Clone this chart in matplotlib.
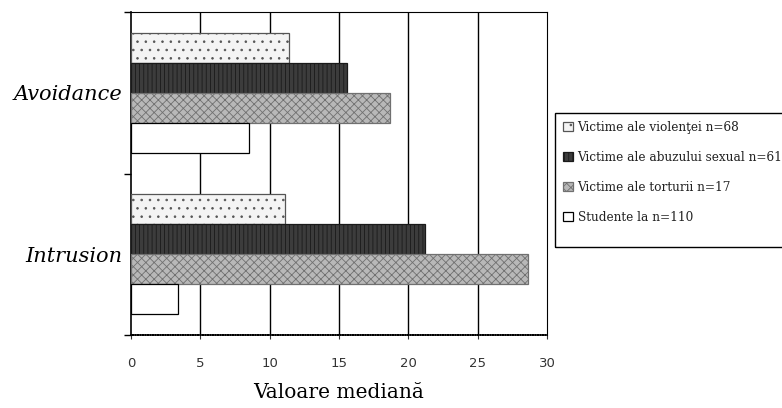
import matplotlib
matplotlib.use("Agg")
import matplotlib.pyplot as plt
from matplotlib.patches import Rectangle
import numpy as np

# date (valoare mediana)
categorii = ['Intrusion', 'Avoidance']
violenta = [11.1, 11.4]
abuz_sexual = [21.2, 15.6]
tortura = [28.6, 18.7]
studente = [3.4, 8.5]
etichete = ['Victime ale violenţei n=68',
            'Victime ale abuzului sexual n=61',
            'Victime ale torturii n=17',
            'Studente la n=110']

plt.rcParams['hatch.linewidth'] = 0.6

fig = plt.figure(figsize=(7.82, 4.08), dpi=100)
ax = fig.add_axes([131 / 782, 1 - 335 / 408, 416 / 782, 323 / 408])

y = np.arange(len(categorii))
h = 0.186

serii = [violenta, abuz_sexual, tortura, studente]
stiluri = [
    dict(color='#f4f4f4', hatch='..', edgecolor='#555555'),
    dict(color='#3c3c3c', hatch='||||', edgecolor='#1a1a1a'),
    dict(color='#b8b8b8', hatch='xxxx', edgecolor='#707070'),
    dict(color='white', hatch='', edgecolor='black'),
]
offsets = [1.5, 0.5, -0.5, -1.5]

handles = []
for vals, st, off, lab in zip(serii, stiluri, offsets, etichete):
    b = ax.barh(y + off * h, vals, height=h, color=st['color'],
                hatch=st['hatch'], edgecolor=st['edgecolor'], linewidth=0.9,
                label=lab, zorder=3)
    handles.append(b)

ax.set_xlim(0, 30)
ax.set_ylim(-0.5, 1.5)

# grila verticala
for xv in [5, 10, 15, 20, 25]:
    ax.axvline(xv, color='black', lw=1.0, zorder=1)

ax.set_xticks([0, 5, 10, 15, 20, 25, 30])
ax.tick_params(axis='x', length=3, pad=13, labelsize=9.5, colors='#333333')
for t in ax.get_xticklabels():
    t.set_family('DejaVu Sans')

ax.set_yticks(y)
ax.set_yticklabels(categorii, family='DejaVu Serif', style='italic', fontsize=15)
ax.tick_params(axis='y', which='major', length=0, pad=6)
ax.set_yticks([-0.5, 0.5, 1.5], minor=True)
ax.tick_params(axis='y', which='minor', length=5, width=1)

ax.spines['left'].set_linewidth(1.2)
ax.spines['bottom'].set_linewidth(1.2)
ax.spines['bottom'].set_linestyle((0, (1, 0.5)))
ax.spines['top'].set_linestyle((0, (1, 1)))
ax.spines['right'].set_linestyle((0, (1, 1)))
ax.spines['top'].set_linewidth(0.8)
ax.spines['right'].set_linewidth(0.8)

ax.set_xlabel('Valoare mediană', family='DejaVu Serif', fontsize=14.5, labelpad=9)

leg = fig.legend(handles=handles, loc='upper left',
                 bbox_to_anchor=(557 / 782, 1 - 115 / 408),
                 prop={'family': 'DejaVu Serif', 'size': 8.7},
                 frameon=False,
                 handlelength=0.8, handleheight=0.8, handletextpad=0.4,
                 labelspacing=1.4, borderpad=0.5, borderaxespad=0)
for t in leg.get_texts():
    t.set_color('#222222')

# chenarul legendei (taiat la dreapta, ca in original)
fig.patches.append(Rectangle((555 / 782, 1 - 247 / 408), 240 / 782, 134 / 408,
                             transform=fig.transFigure, fill=False,
                             edgecolor='black', linewidth=1.0))

plt.savefig('out.png', dpi=100)
